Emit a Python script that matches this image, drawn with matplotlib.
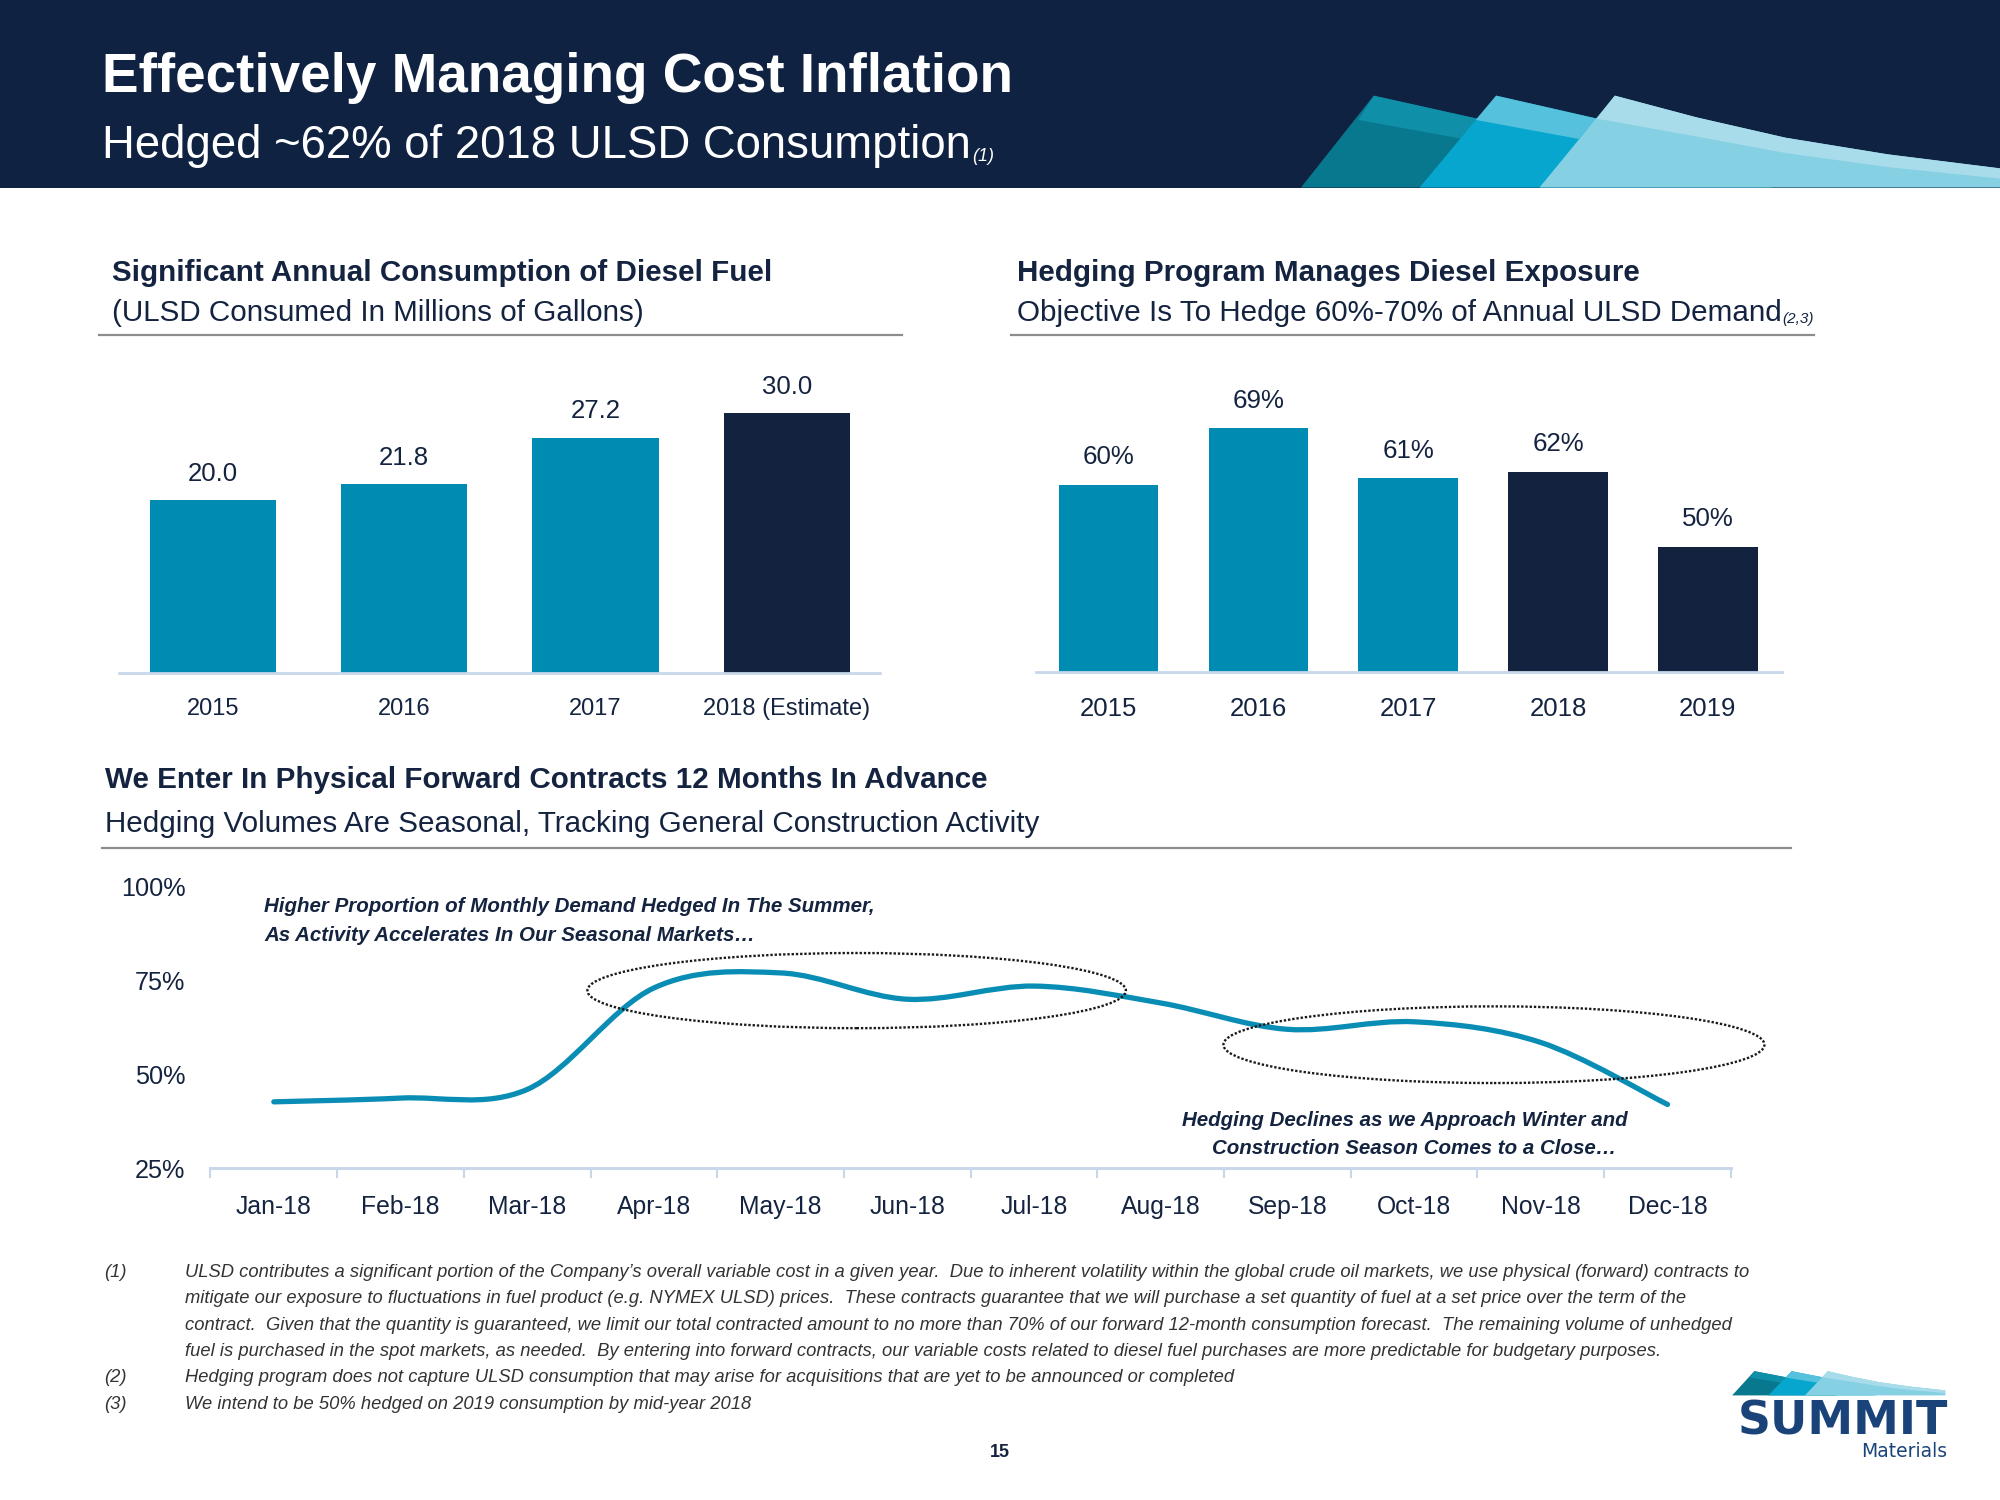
import numpy as np
import matplotlib
matplotlib.use('Agg')
import matplotlib.pyplot as plt
from matplotlib.patches import Rectangle, Ellipse, Polygon, PathPatch
from matplotlib.path import Path

plt.rcParams['font.family'] = ['Liberation Sans', 'DejaVu Sans']

NAVY = '#0f2241'
TEXT = '#14233f'
TEAL = '#008bb2'
DARK = '#13233f'
LINE = '#0a8db4'
AXIS = '#c8d8ea'
RULE = '#8c8c8c'
NOTE = '#333333'
LOGO = '#1a4479'

# data
consumption_years = ['2015', '2016', '2017', '2018 (Estimate)']
consumption_values = [20.0, 21.8, 27.2, 30.0]
consumption_colors = [TEAL, TEAL, TEAL, DARK]

hedge_years = ['2015', '2016', '2017', '2018', '2019']
hedge_values = [60, 69, 61, 62, 50]
hedge_colors = [TEAL, TEAL, TEAL, DARK, DARK]

months = ['Jan-18', 'Feb-18', 'Mar-18', 'Apr-18', 'May-18', 'Jun-18',
          'Jul-18', 'Aug-18', 'Sep-18', 'Oct-18', 'Nov-18', 'Dec-18']
monthly_hedged = [42.7, 43.7, 46, 73, 77, 70, 73.5, 69, 62, 64, 58.5, 42]
pct_ticks = [25, 50, 75, 100]

footnotes = [
    ('(1)', 'ULSD contributes a significant portion of the Company\u2019s overall variable cost in a given year.  Due to inherent volatility within the global crude oil markets, we use physical (forward) contracts to'),
    ('', 'mitigate our exposure to fluctuations in fuel product (e.g. NYMEX ULSD) prices.  These contracts guarantee that we will purchase a set quantity of fuel at a set price over the term of the'),
    ('', 'contract.  Given that the quantity is guaranteed, we limit our total contracted amount to no more than 70% of our forward 12-month consumption forecast.  The remaining volume of unhedged'),
    ('', 'fuel is purchased in the spot markets, as needed.  By entering into forward contracts, our variable costs related to diesel fuel purchases are more predictable for budgetary purposes.'),
    ('(2)', 'Hedging program does not capture ULSD consumption that may arise for acquisitions that are yet to be announced or completed'),
    ('(3)', 'We intend to be 50% hedged on 2019 consumption by mid-year 2018'),
]

W, H = 1568, 1176


def box(l, t, r, b):
    return [l / W, 1 - b / H, (r - l) / W, (b - t) / H]


def smooth_path(xs, ys):
    pts = np.column_stack([xs, ys]).astype(float)
    ext = np.vstack([pts[0], pts, pts[-1]])
    verts, codes = [pts[0]], [Path.MOVETO]
    for i in range(len(pts) - 1):
        p0, p1, p2, p3 = ext[i], ext[i + 1], ext[i + 2], ext[i + 3]
        verts += [p1 + (p2 - p0) / 6, p2 - (p3 - p1) / 6, p2]
        codes += [Path.CURVE4] * 3
    return Path(verts, codes)


def draw_sails(ax, x0=1020, y0=75, sx=1.0, sy=1.0):
    shapes = [
        ('#08788f', [(1020, 147), (1077, 75), (1158, 93), (1250, 130), (1290, 147)]),
        ('#108fa9', [(1065, 94), (1077, 75), (1158, 93), (1147, 109)]),
        ('#07a6cf', [(1113, 147), (1173, 75), (1252, 93), (1350, 130), (1390, 147)]),
        ('#56c1dc', [(1157, 94), (1173, 75), (1252, 93), (1238, 109)]),
        ('#86d0e4', [(1207, 147), (1266, 75), (1330, 92), (1400, 108), (1480, 121),
                     (1568, 132), (1568, 147)]),
        ('#a9dceb', [(1266, 75), (1330, 92), (1400, 108), (1480, 121), (1568, 132),
                     (1568, 140), (1480, 131), (1400, 120), (1330, 107), (1252, 93)]),
    ]
    for color, pts in shapes:
        pts = [(x0 + (x - 1020) * sx, y0 + (y - 75) * sy) for x, y in pts]
        ax.add_patch(Polygon(pts, closed=True, facecolor=color, lw=0))


fig = plt.figure(figsize=(20, 15), dpi=100)

# page background / text layer in slide pixel units
bg = fig.add_axes([0, 0, 1, 1], zorder=0)
bg.set_xlim(0, W)
bg.set_ylim(H, 0)
bg.axis('off')

bg.add_patch(Rectangle((0, 0), W, 147, facecolor=NAVY, lw=0))
draw_sails(bg)

bg.text(80, 72, 'Effectively Managing Cost Inflation', color='white',
        fontsize=39.5, fontweight='bold', va='baseline')
sub = bg.text(80, 124, 'Hedged ~62% of 2018 ULSD Consumption', color='white',
              fontsize=32.8, va='baseline')
bg.annotate('(1)', xy=(1, 0), xycoords=sub, xytext=(1, 2), textcoords='offset points',
            color='white', fontsize=13, fontstyle='italic', va='bottom')

# section headings
bg.text(88, 220, 'Significant Annual Consumption of Diesel Fuel', color=TEXT,
        fontsize=21.3, fontweight='bold', va='baseline')
bg.text(88, 252, '(ULSD Consumed In Millions of Gallons)', color=TEXT,
        fontsize=21.3, va='baseline')
bg.plot([78, 707], [263, 263], color=RULE, lw=1.6)

bg.text(797, 220, 'Hedging Program Manages Diesel Exposure', color=TEXT,
        fontsize=21.3, fontweight='bold', va='baseline')
sub2 = bg.text(797, 252, 'Objective Is To Hedge 60%-70% of Annual ULSD Demand',
               color=TEXT, fontsize=21.3, va='baseline')
bg.annotate('(2,3)', xy=(1, 0), xycoords=sub2, xytext=(1, 1), textcoords='offset points',
            color=TEXT, fontsize=11, fontstyle='italic', va='bottom')
bg.plot([793, 1422], [263, 263], color=RULE, lw=1.6)

bg.text(82, 618, 'We Enter In Physical Forward Contracts 12 Months In Advance', color=TEXT,
        fontsize=21.3, fontweight='bold', va='baseline')
bg.text(82, 652, 'Hedging Volumes Are Seasonal, Tracking General Construction Activity',
        color=TEXT, fontsize=21.3, va='baseline')
bg.plot([80, 1404], [665, 665], color=RULE, lw=1.6)

# annotations on the line chart
note_style = dict(color=TEXT, fontsize=14.8, fontweight='bold', fontstyle='italic',
                  va='baseline')
bg.text(207, 715, 'Higher Proportion of Monthly Demand Hedged In The Summer,', **note_style)
bg.text(207, 738, 'As Activity Accelerates In Our Seasonal Markets\u2026', **note_style)
bg.text(1101, 883, 'Hedging Declines as we Approach Winter and', ha='center', **note_style)
bg.text(1109, 905, 'Construction Season Comes to a Close\u2026', ha='center', **note_style)

# footnotes
for i, (num, line) in enumerate(footnotes):
    y = 1001 + i * 20.7
    if num:
        bg.text(82, y, num, color=NOTE, fontsize=13.2, fontstyle='italic', va='baseline')
    bg.text(145, y, line, color=NOTE, fontsize=13.2, fontstyle='italic', va='baseline')

bg.text(784, 1142, '15', color=TEXT, fontsize=13, fontweight='bold', ha='center', va='baseline')

# logo
draw_sails(bg, x0=1358, y0=1075, sx=0.305, sy=0.264)
bg.text(1527, 1125, 'SUMMIT', color=LOGO, fontsize=33, fontweight='heavy',
        family='DejaVu Sans', ha='right', va='baseline')
bg.text(1527, 1142, 'Materials', color=LOGO, fontsize=13.5, family='DejaVu Sans',
        ha='right', va='baseline')


def style_bar_axes(ax, labels, size):
    for s in ['left', 'top', 'right']:
        ax.spines[s].set_visible(False)
    ax.spines['bottom'].set_color(AXIS)
    ax.spines['bottom'].set_linewidth(2)
    ax.set_xticks(range(len(labels)), labels)
    ax.tick_params(axis='x', length=0, pad=18, labelsize=size, labelcolor=TEXT)
    ax.set_yticks([])
    ax.patch.set_visible(False)


# consumption bars
ax1 = fig.add_axes(box(93, 290, 690, 528), zorder=1)
x1 = np.arange(len(consumption_years))
bars1 = ax1.bar(x1, consumption_values, width=0.66, color=consumption_colors)
ax1.set_xlim(-0.493, 3.487)
ax1.set_ylim(0, 35)
style_bar_axes(ax1, consumption_years, 17)
for b, v in zip(bars1, consumption_values):
    ax1.annotate(f'{v:.1f}', (b.get_x() + b.get_width() / 2, v), xytext=(0, 19),
                 textcoords='offset points', ha='center', va='center',
                 fontsize=18.5, color=TEXT)

# hedge bars
ax2 = fig.add_axes(box(812, 306.5, 1397, 527), zorder=1)
x2 = np.arange(len(hedge_years))
bars2 = ax2.bar(x2, hedge_values, width=0.664, color=hedge_colors)
ax2.set_xlim(-0.485, 4.494)
ax2.set_ylim(30, 75)
style_bar_axes(ax2, hedge_years, 18.5)
for b, v in zip(bars2, hedge_values):
    ax2.annotate(f'{v}%', (b.get_x() + b.get_width() / 2, v), xytext=(0, 20),
                 textcoords='offset points', ha='center', va='center',
                 fontsize=18.6, color=TEXT)

# monthly hedge line
ax3 = fig.add_axes(box(165, 695, 1357, 916), zorder=1)
xm = np.arange(len(months))
ax3.add_patch(PathPatch(smooth_path(xm, monthly_hedged), fill=False,
                        edgecolor=LINE, lw=3.8, capstyle='round'))
ax3.plot(xm, monthly_hedged, lw=0)
for center, w, h in [((4.60, 72.3), 4.25, 20.0), ((9.63, 57.9), 4.27, 20.4)]:
    ax3.add_patch(Ellipse(center, w, h, fill=False, edgecolor='#1a1a1a',
                          lw=1.7, linestyle=(0, (1, 0.8)), clip_on=False))
ax3.set_xlim(-0.5, len(months) - 0.5)
ax3.set_ylim(25, 100)
for s in ['left', 'top', 'right']:
    ax3.spines[s].set_visible(False)
ax3.spines['bottom'].set_color(AXIS)
ax3.spines['bottom'].set_linewidth(2.2)
ax3.set_xticks(np.arange(-0.5, len(months)), [])
ax3.set_xticks(xm, months, minor=True)
ax3.tick_params(axis='x', which='major', length=7, width=1.5, color=AXIS, direction='out')
ax3.tick_params(axis='x', which='minor', length=0, pad=19, labelsize=17.8, labelcolor=TEXT)
ax3.set_yticks(pct_ticks, [f'{t}%' for t in pct_ticks])
ax3.tick_params(axis='y', length=0, pad=18, labelsize=18.2, labelcolor=TEXT)
ax3.patch.set_visible(False)

fig.savefig('out.png', dpi=100)
